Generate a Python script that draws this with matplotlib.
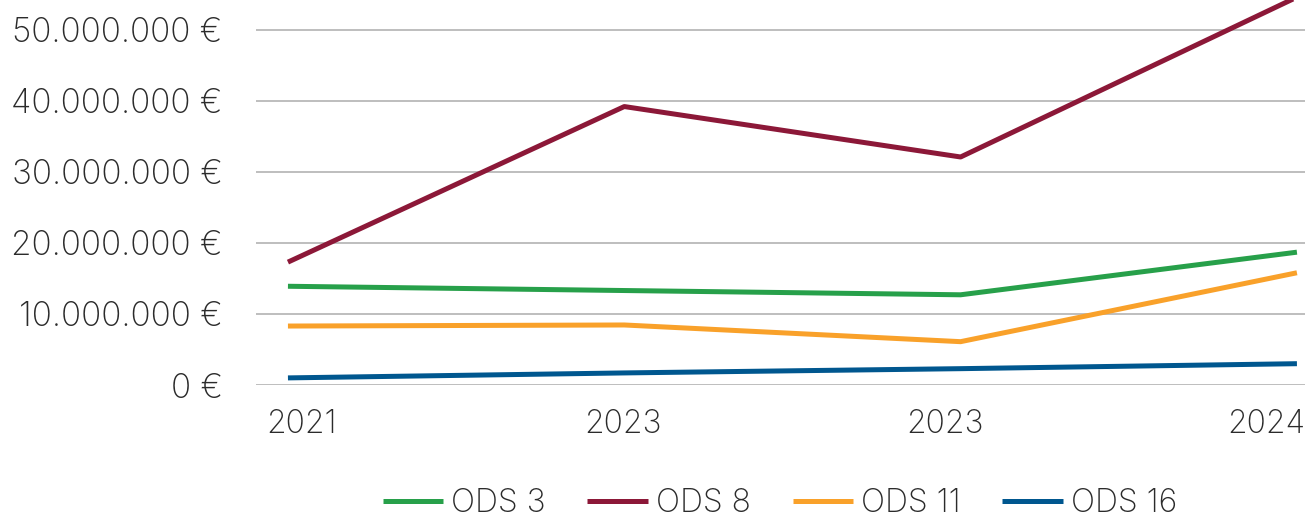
import numpy as np
import matplotlib
matplotlib.use("Agg")
import matplotlib.pyplot as plt
from matplotlib.ticker import FuncFormatter

# data
years = ["2021", "2023", "2023", "2024"]
ods3 = [13.9e6, 13.3e6, 12.7e6, 18.7e6]
ods8 = [17.3e6, 39.2e6, 32.1e6, 54.6e6]
ods11 = [8.3e6, 8.45e6, 6.1e6, 15.8e6]
ods16 = [1.0e6, 1.7e6, 2.3e6, 3.0e6]

names = ["ODS 3", "ODS 8", "ODS 11", "ODS 16"]
colors = ["#27A04A", "#8C1838", "#F9A12A", "#00578F"]

plt.rcParams['font.family'] = ['Inter', 'DejaVu Sans']
plt.rcParams['font.weight'] = 'light'

W, H = 1309, 519
fig = plt.figure(figsize=(W / 100, H / 100), dpi=100)
ax = fig.add_axes([256 / W, (H - 385) / H, (1305 - 256) / W, 385 / H])

x = np.arange(len(years))
for vals, nm, c in zip([ods3, ods8, ods11, ods16], names, colors):
    ax.plot(x, vals, color=c, lw=3.6, label=nm, solid_capstyle='butt')

ax.set_xlim(-0.095, 3.024)
ax.set_ylim(0, 54.2e6)
ax.set_yticks(np.arange(0, 50e6 + 1, 10e6))
ax.yaxis.set_major_formatter(FuncFormatter(lambda v, p: f"{int(v):,} €".replace(",", ".")))
ax.grid(axis='y', color='#B3B3B3', lw=1.2)
ax.set_axisbelow(True)
for s in ax.spines.values():
    s.set_visible(False)

# category labels sit slightly off the points, as in the source
ax.set_xticks(np.linspace(0.04, 2.91, 4))
ax.set_xticklabels(years)
ax.tick_params(axis='both', length=0, colors='#2B2B2B')
ax.tick_params(axis='y', pad=24, labelsize=24)
ax.tick_params(axis='x', pad=17, labelsize=23)

fig.legend(loc='center', bbox_to_anchor=(780 / W, 1 - 504 / H), ncol=4, frameon=False,
           fontsize=23, handlelength=1.9, handletextpad=0.25, columnspacing=1.3,
           labelcolor='#2B2B2B', borderaxespad=0, borderpad=0)

fig.savefig("out.png", dpi=100)
